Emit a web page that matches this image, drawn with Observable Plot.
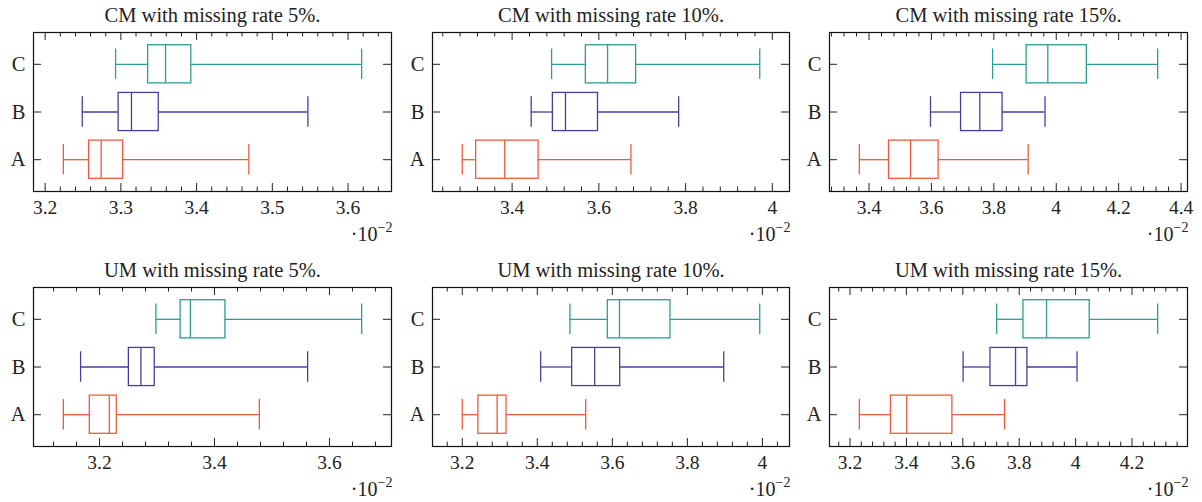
<!DOCTYPE html>
<html><head><meta charset="utf-8">
<script src="https://cdn.jsdelivr.net/npm/d3@7"></script>
<script src="https://cdn.jsdelivr.net/npm/@observablehq/plot@0.6"></script>
<style>
body{margin:0;background:#fff;}
#wrap{position:relative;width:1202px;height:502px;overflow:hidden;background:#fff;}
</style></head><body><div id="wrap"></div>
<script>
// categories (bottom to top) and panel titles
const categories = ["A", "B", "C"];
const titles = [
  "CM with missing rate 5%.", "CM with missing rate 10%.", "CM with missing rate 15%.",
  "UM with missing rate 5%.", "UM with missing rate 10%.", "UM with missing rate 15%."
];
// five-number summaries [min, q1, median, q3, max] per category, in units of 10^-2
const cm05 = [[3.224, 3.258, 3.274, 3.303, 3.469], [3.249, 3.297, 3.314, 3.350, 3.547], [3.293, 3.336, 3.359, 3.393, 3.618]];
const cm10 = [[3.285, 3.317, 3.383, 3.461, 3.674], [3.444, 3.494, 3.523, 3.598, 3.784], [3.491, 3.570, 3.620, 3.686, 3.971]];
const cm15 = [[3.369, 3.464, 3.533, 3.623, 3.910], [3.597, 3.695, 3.755, 3.828, 3.964], [3.796, 3.905, 3.973, 4.098, 4.325]];
const um05 = [[3.137, 3.183, 3.217, 3.230, 3.478], [3.167, 3.251, 3.272, 3.296, 3.562], [3.298, 3.341, 3.358, 3.419, 3.656]];
const um10 = [[3.200, 3.243, 3.293, 3.318, 3.529], [3.409, 3.493, 3.553, 3.621, 3.897], [3.487, 3.588, 3.619, 3.755, 3.993]];
const um15 = [[3.233, 3.345, 3.401, 3.563, 3.748], [3.601, 3.698, 3.787, 3.829, 4.005], [3.720, 3.815, 3.897, 4.050, 4.291]];
// tick labels per panel
const ticks05cm = [3.2, 3.3, 3.4, 3.5, 3.6];
const ticks10cm = [3.4, 3.6, 3.8, 4];
const ticks15cm = [3.4, 3.6, 3.8, 4, 4.2, 4.4];
const ticks05um = [3.2, 3.4, 3.6];
const ticks10um = [3.2, 3.4, 3.6, 3.8, 4];
const ticks15um = [3.2, 3.4, 3.6, 3.8, 4, 4.2];
const minorSteps = [0.02, 0.04, 0.04, 0.04, 0.04, 0.04];
const colors = ["#ef5a3c", "#4b3d9e", "#2b9e95"];

const sets = [cm05, cm10, cm15, um05, um10, um15];
const majors = [ticks05cm, ticks10cm, ticks15cm, ticks05um, ticks10um, ticks15um];

const font = "'Liberation Serif', 'DejaVu Serif', serif";
const lefts = [0, 400, 800], tops = [0, 255], widths = [400, 400, 402];
const mls = [33, 32, 29], mrs = [9, 11, 15];
const wrap = document.getElementById("wrap");

function panel(k) {
  const rows = sets[k].map((s, i) => ({cat: categories[i], y: i + 1, min: s[0], q1: s[1], med: s[2], q3: s[3], max: s[4]}));
  const lo = d3.min(rows, d => d.min), hi = d3.max(rows, d => d.max), pad = (hi - lo) * 0.1;
  const dom = [lo - pad, hi + pad];
  const step = minorSteps[k];
  const minors = d3.range(Math.ceil(dom[0] / step - 1e-9), Math.floor(dom[1] / step + 1e-9) + 1)
    .map(i => +(i * step).toFixed(4))
    .filter(v => !majors[k].some(m => Math.abs(m - v) < 1e-6));
  const col = k % 3, row = Math.floor(k / 3);
  const W = widths[col], H = 250, mt = 32, mb = 59, ml = mls[col], mr = mrs[col];
  const fh = H - mt - mb, fw = W - ml - mr;
  const sw = 1.3, tc = "#222";
  const svg = Plot.plot({
    width: W, height: H, marginTop: mt, marginBottom: mb, marginLeft: ml, marginRight: mr,
    x: {domain: dom},
    y: {domain: [1 / 3, 11 / 3]},
    color: {domain: categories, range: colors},
    style: {fontFamily: font, background: "white", overflow: "visible"},
    marks: [
      Plot.ruleY(rows, {y: "y", x1: "min", x2: "q1", stroke: "cat", strokeWidth: sw}),
      Plot.ruleY(rows, {y: "y", x1: "q3", x2: "max", stroke: "cat", strokeWidth: sw}),
      Plot.rect(rows, {x1: "q1", x2: "q3", y1: d => d.y - 0.4, y2: d => d.y + 0.4, stroke: "cat", fill: "white", strokeWidth: sw}),
      Plot.ruleX(rows, {x: "med", y1: d => d.y - 0.4, y2: d => d.y + 0.4, stroke: "cat", strokeWidth: sw}),
      Plot.ruleX(rows, {x: "min", y1: d => d.y - 0.32, y2: d => d.y + 0.32, stroke: "cat", strokeWidth: sw}),
      Plot.ruleX(rows, {x: "max", y1: d => d.y - 0.32, y2: d => d.y + 0.32, stroke: "cat", strokeWidth: sw}),
      Plot.ruleX(majors[k], {insetTop: fh - 8, stroke: tc}),
      Plot.ruleX(majors[k], {insetBottom: fh - 8, stroke: tc}),
      Plot.ruleX(minors, {insetTop: fh - 4.5, stroke: tc}),
      Plot.ruleX(minors, {insetBottom: fh - 4.5, stroke: tc}),
      Plot.ruleY([1, 2, 3], {insetRight: fw - 8, stroke: tc}),
      Plot.ruleY([1, 2, 3], {insetLeft: fw - 8, stroke: tc}),
      Plot.axisX(majors[k], {tickSize: 0, tickPadding: 9, fontSize: 19.5, fill: tc, label: null, tickFormat: d => String(d)}),
      Plot.axisY([1, 2, 3], {tickSize: 0, tickPadding: 8, fontSize: 20.5, fill: tc, label: null, tickFormat: d => categories[d - 1]}),
      Plot.frame({stroke: "#111", strokeWidth: 1.2}),
      Plot.text([titles[k]], {frameAnchor: "top", lineAnchor: "middle", dy: -17, fontSize: 20.5, fill: tc}),
      Plot.text(["·10"], {frameAnchor: "bottom-right", textAnchor: "end", dx: -14, dy: 49, fontSize: 20, fill: tc}),
      Plot.text(["−2"], {frameAnchor: "bottom-right", textAnchor: "end", dx: 1, dy: 40, fontSize: 14, fill: tc})
    ]
  });
  svg.style.position = "absolute";
  svg.style.left = lefts[col] + "px";
  svg.style.top = tops[row] + "px";
  wrap.appendChild(svg);
}
for (let k = 0; k < 6; k++) panel(k);
</script></body></html>
